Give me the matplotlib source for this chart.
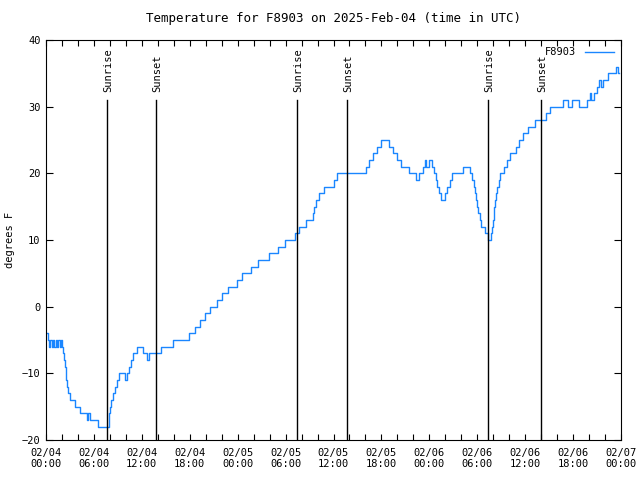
import numpy as np
import matplotlib
matplotlib.use('Agg')
import matplotlib.pyplot as plt
from matplotlib.ticker import MultipleLocator

# hours since 2025-02-04 00:00 UTC, temperature (degrees F), step readings
hours = [0.0, 0.2, 0.4, 0.55, 0.7, 0.85, 1.0, 1.2, 1.35, 1.55, 1.7, 1.85, 2.0,
         2.15, 2.25, 2.35, 2.45, 2.55, 2.65, 2.8, 3.0, 3.2, 3.6, 4.2, 5.1, 5.3,
         5.5, 6.5, 7.85, 7.95, 8.05, 8.2, 8.4, 8.65, 8.9, 9.2, 9.95, 10.2,
         10.45, 10.65, 10.85, 11.45, 12.15, 12.7, 12.95, 14.4, 15.9, 17.9,
         18.6, 19.3, 19.9, 20.5, 21.4, 22.1, 22.8, 23.9, 24.6, 25.7, 26.6,
         27.9, 29.1, 29.9, 31.2, 31.7, 32.5, 33.4, 33.6, 33.75, 34.2, 34.8,
         36.0, 36.4, 40.1, 40.5, 41.0, 41.5, 41.9, 43.0, 43.5, 43.9, 44.5,
         45.4, 46.3, 46.7, 47.2, 47.4, 47.6, 47.9, 48.3, 48.6, 48.8, 49.0,
         49.2, 49.4, 49.9, 50.2, 50.6, 50.9, 52.2, 53.1, 53.4, 53.6, 53.7,
         53.8, 53.95, 54.1, 54.3, 54.5, 55.0, 55.3, 55.7, 55.8, 55.95, 56.05,
         56.15, 56.25, 56.35, 56.5, 56.7, 56.9, 57.4, 57.7, 58.1, 58.8, 59.2,
         59.7, 60.4, 61.2, 62.6, 63.1, 64.7, 65.4, 65.9, 66.8, 67.7, 68.1,
         68.3, 68.6, 69.0, 69.3, 69.5, 69.8, 70.4, 71.4, 71.6, 71.8]
temps = [-4, -5, -6, -5, -6, -5, -6, -5, -6, -5, -6, -5, -6,
         -7, -8, -9, -10, -11, -12, -13, -14, -14, -15, -16, -17, -16,
         -17, -18, -17, -16, -15, -14, -13, -12, -11, -10, -11, -10,
         -9, -8, -7, -6, -7, -8, -7, -6, -5, -4,
         -3, -2, -1, 0, 1, 2, 3, 4, 5, 6, 7,
         8, 9, 10, 11, 12, 13, 14, 15, 16, 17, 18,
         19, 20, 21, 22, 23, 24, 25, 24, 23, 22, 21,
         20, 19, 20, 21, 22, 21, 22, 21, 20, 19, 18,
         17, 16, 17, 18, 19, 20, 21, 20, 19, 18, 17,
         16, 15, 14, 13, 12, 11, 10, 11, 12, 13, 14,
         15, 16, 17, 18, 19, 20, 21, 22, 23, 24, 25,
         26, 27, 28, 29, 30, 31, 30, 31, 30, 31, 32,
         31, 32, 33, 34, 33, 34, 35, 36, 35, 35]

sun_hours = [7.6, 13.74, 31.47, 37.73, 55.38, 61.94]
sun_labels = ['Sunrise', 'Sunset', 'Sunrise', 'Sunset', 'Sunrise', 'Sunset']

tick_hours = list(range(0, 73, 6))
tick_labels = ['02/04\n00:00', '02/04\n06:00', '02/04\n12:00', '02/04\n18:00',
               '02/05\n00:00', '02/05\n06:00', '02/05\n12:00', '02/05\n18:00',
               '02/06\n00:00', '02/06\n06:00', '02/06\n12:00', '02/06\n18:00',
               '02/07\n00:00']

plt.rcParams['font.family'] = ['DejaVu Sans Mono']
plt.rcParams['font.size'] = 7.5

fig = plt.figure(figsize=(6.4, 4.8), dpi=100)
ax = fig.add_axes([46/640, 40/480, 575/640, 400/480])

ax.plot(hours, temps, drawstyle='steps-post', color='#1a86ff', lw=1.0,
        label='F8903')

for h, lab in zip(sun_hours, sun_labels):
    ax.plot([h, h], [-20, 31], color='black', lw=1.0)
    ax.text(h + 0.15, 32.2, lab, rotation=90, ha='center', va='bottom')

ax.set_xlim(0, 72)
ax.set_ylim(-20, 40)
ax.set_xticks(tick_hours)
ax.set_xticklabels(tick_labels, linespacing=1.1)
ax.xaxis.set_minor_locator(MultipleLocator(2))
ax.yaxis.set_major_locator(MultipleLocator(10))
ax.tick_params(which='both', direction='in', top=True, right=True,
               length=4, width=0.8)
ax.tick_params(axis='y', length=5)
ax.tick_params(axis='x', pad=6)
ax.tick_params(axis='y', pad=4)

ax.set_ylabel('degrees F')
ax.yaxis.set_label_coords(-31/575, 0.5)
ax.set_title('Temperature for F8903 on 2025-Feb-04 (time in UTC)', pad=13)

ax.legend(loc='upper right', frameon=False, markerfirst=False,
          handlelength=2.8, borderaxespad=0.3, handletextpad=0.8)

fig.savefig('out.png', dpi=100)
